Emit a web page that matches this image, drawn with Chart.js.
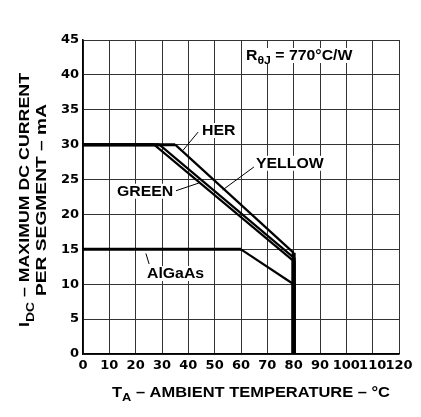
<!DOCTYPE html>
<html><head><meta charset="utf-8">
<script src="https://cdn.jsdelivr.net/npm/chart.js@4.4.1/dist/chart.umd.min.js"></script>
<style>html,body{margin:0;padding:0;background:#fff;overflow:hidden}#wrap{width:421px;height:417px}</style>
</head><body><div id="wrap"><canvas id="c" width="421" height="417"></canvas></div>
<script>
// ---- data ----
const xTicks = [0,10,20,30,40,50,60,70,80,90,100,110,120];
const yTicks = [0,5,10,15,20,25,30,35,40,45];
const herX = [0,35,80,80];     const herY = [30,30,14.5,0];
const yellowX = [0,29,80,80];  const yellowY = [30,30,13.8,0];
const greenX = [0,27,80,80];   const greenY = [30,30,13.3,0];
const algaasX = [0,60,80,80];  const algaasY = [15,15,10,0];
const seriesNames = ['HER','YELLOW','GREEN','AlGaAs'];
// label anchor (data units) and leader lines
const labelX = [45.2, 65.7, 12.9, 24.3];
const labelY = [32.1, 27.4, 23.4, 11.6];
const leadFromX = [43.7, 64.9, 35.3, 23.9];
const leadFromY = [31.8, 26.8, 23.4, 14.4];
const leadToX = [38.0, 53.0, 44.0, 25.1];
const leadToY = [29.2, 23.5, 24.5, 12.9];
const noteX = 61.9, noteY = 42.85;
const xTitle = [['T',0],['A',1],[' – AMBIENT TEMPERATURE – °C',0]];
const yTitle1 = [['I',0],['DC',1],[' – MAXIMUM DC CURRENT',0]];
const yTitle2 = [['PER SEGMENT – mA',0]];
const noteText = [['R',0],['θJ',1],[' = 770°C/W',0]];

const FONT = '"Liberation Sans", Arial, sans-serif';

function richWidth(ctx, parts, size){
  let w=0;
  for(const [t,sub] of parts){ctx.font='bold '+(sub?size*0.78:size)+'px '+FONT; w+=ctx.measureText(t).width;}
  return w;
}
function drawRich(ctx, parts, size, hscale){ // draws at origin, left aligned, baseline y=0
  ctx.save(); ctx.scale(hscale,1);
  let x=0;
  for(const [t,sub] of parts){
    ctx.font='bold '+(sub?size*0.78:size)+'px '+FONT;
    ctx.textBaseline='alphabetic'; ctx.textAlign='left';
    ctx.fillText(t,x,sub?size*0.32:0);
    x+=ctx.measureText(t).width;
  }
  ctx.restore();
}

const decor = {
  id:'decor',
  afterDatasetsDraw(chart){
    const ctx=chart.ctx, xs=chart.scales.x, ys=chart.scales.y;
    ctx.save();
    ctx.fillStyle='#000'; ctx.strokeStyle='#000';
    const size=14, hs=1.13;
    const drawLabel=(parts,vx,vy)=>{
      const px=xs.getPixelForValue(vx), py=ys.getPixelForValue(vy);
      const w=richWidth(ctx,parts,size)*hs;
      ctx.fillStyle='#fff'; ctx.fillRect(px-2,py-7,w+4,15);
      ctx.fillStyle='#000';
      ctx.save(); ctx.translate(px,py+5); drawRich(ctx,parts,size,hs); ctx.restore();
    };
    for(let i=0;i<seriesNames.length;i++){
      ctx.lineWidth=1;
      ctx.beginPath();
      ctx.moveTo(xs.getPixelForValue(leadFromX[i]),ys.getPixelForValue(leadFromY[i]));
      ctx.lineTo(xs.getPixelForValue(leadToX[i]),ys.getPixelForValue(leadToY[i]));
      ctx.stroke();
      drawLabel([[seriesNames[i],0]],labelX[i],labelY[i]);
    }
    drawLabel(noteText,noteX,noteY);
    // x title
    {
      const w=richWidth(ctx,xTitle,14), target=278, h=target/w;
      ctx.save(); ctx.translate(251-target/2,397); drawRich(ctx,xTitle,14,h); ctx.restore();
    }
    // y title
    {
      const w1=richWidth(ctx,yTitle1,15), target=254, h=target/w1;
      const w2=richWidth(ctx,yTitle2,15), target2=192, h2=target2/w2;
      const cy=(chart.chartArea.top+chart.chartArea.bottom)/2+3;
      ctx.save(); ctx.translate(29,cy+target/2); ctx.rotate(-Math.PI/2); drawRich(ctx,yTitle1,15,h); ctx.restore();
      ctx.save(); ctx.translate(46,cy+target2/2); ctx.rotate(-Math.PI/2); drawRich(ctx,yTitle2,15,h2); ctx.restore();
    }
    ctx.restore();
  }
};

function mk(name,xsArr,ysArr){
  return {
    label:name,
    data:xsArr.map((x,i)=>({x:x,y:ysArr[i]})),
    showLine:true, pointRadius:0, borderColor:'#000', backgroundColor:'#000',
    borderWidth:3, borderJoinStyle:'miter', borderCapStyle:'butt', tension:0, clip:false,
    segment:{borderWidth:c=>{
      const a=c.p0.parsed, b=c.p1.parsed;
      if(a.x===b.x) return 4;
      if(a.y===b.y) return 3;
      return 2.2;
    }}
  };
}

const tickFont={family:'"DejaVu Sans", sans-serif', weight:'bold', size:13};
new Chart(document.getElementById('c'),{
  type:'scatter',
  data:{datasets:[
    mk('AlGaAs',algaasX,algaasY),
    mk('GREEN',greenX,greenY),
    mk('YELLOW',yellowX,yellowY),
    mk('HER',herX,herY)
  ]},
  options:{
    responsive:false, animation:false,
    layout:{padding:{left:0,top:40,right:22,bottom:0}},
    plugins:{legend:{display:false},tooltip:{enabled:false}},
    scales:{
      x:{type:'linear',min:0,max:120,
        afterBuildTicks:s=>{s.ticks=xTicks.map(v=>({value:v}));},
        afterFit:s=>{s.height=63;},
        ticks:{autoSkip:false,maxRotation:0,minRotation:0,color:'#000',font:tickFont,padding:4},
        grid:{color:'#333',lineWidth:1,drawTicks:false},
        border:{color:'#000',width:1.5}},
      y:{type:'linear',min:0,max:45,
        afterBuildTicks:s=>{s.ticks=yTicks.map(v=>({value:v}));},
        afterFit:s=>{s.width=83;},
        ticks:{color:'#000',font:tickFont,padding:4},
        grid:{color:'#333',lineWidth:1,drawTicks:false},
        border:{color:'#000',width:1.5}}
    }
  },
  plugins:[decor]
});
</script></body></html>
